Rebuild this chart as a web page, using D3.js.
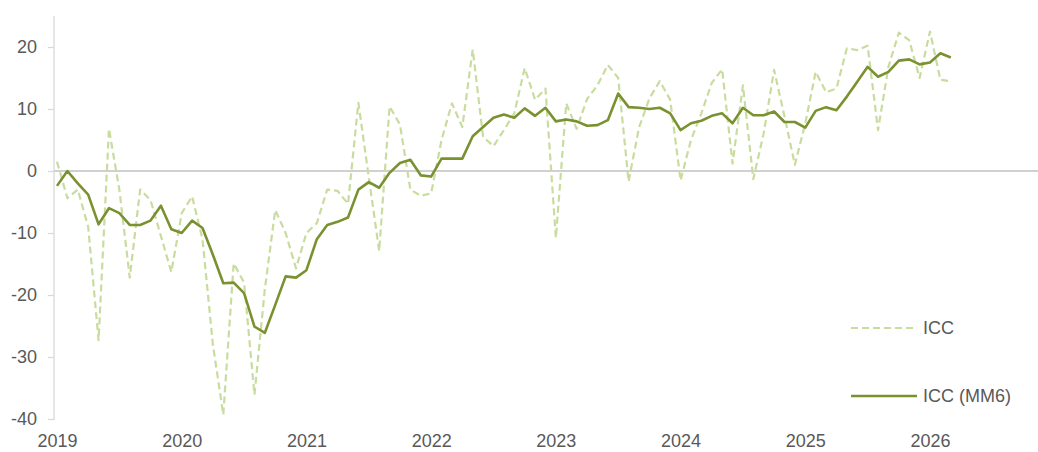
<!DOCTYPE html>
<html>
<head>
<meta charset="utf-8">
<script src="https://cdn.jsdelivr.net/npm/d3@7"></script>
<style>
  html, body { margin: 0; padding: 0; background: #ffffff; }
  svg { display: block; }
  text { font-family: "Liberation Sans", Arial, sans-serif; }
</style>
</head>
<body>
<svg id="chart" width="1038" height="452"></svg>
<script>
// Month labels: Jan 2019 .. Mar 2026
const startYear = 2019;
const years = ["2019", "2020", "2021", "2022", "2023", "2024", "2025", "2026"];
const yTicks = [-40, -30, -20, -10, 0, 10, 20];
const seriesNames = ["ICC", "ICC (MM6)"];

// ICC (monthly, dashed)
const icc = [
  1.5, -4.4, -3.0, -9.0, -27.3, 6.8, -3.0, -17.2, -3.0, -4.7, -10.5, -16.3,
  -6.8, -4.1, -11.0, -28.0, -39.3, -14.9, -18.0, -36.1, -19.0, -6.3, -10.0, -15.7,
  -10.0, -8.4, -3.0, -3.2, -5.3, 11.0, -1.0, -12.9, 10.4, 7.5, -3.0, -4.0,
  -3.6, 5.0, 10.9, 7.1, 19.6, 5.5, 4.0, 6.6, 9.3, 16.6, 11.5, 13.3,
  -10.8, 10.9, 6.8, 11.6, 13.8, 17.1, 15.0, -1.7, 7.0, 11.7, 14.5, 11.5,
  -1.5, 5.0, 9.3, 14.2, 16.4, 1.2, 13.8, -1.3, 6.1, 16.3, 8.8, 1.0,
  7.7, 16.0, 12.7, 13.3, 19.8, 19.5, 20.2, 6.6, 16.8, 22.3, 21.1, 15.0,
  22.5, 14.7, 14.5
];

// ICC 6-month moving average (solid)
const iccMM6 = [
  -2.4, 0.0, -2.0, -3.8, -8.6, -6.0, -6.8, -8.7, -8.7, -8.0, -5.6, -9.4,
  -10.0, -8.0, -9.2, -13.5, -18.1, -18.0, -19.7, -25.1, -26.1, -21.6, -17.0, -17.2,
  -16.0, -11.0, -8.7, -8.2, -7.5, -3.0, -1.8, -2.7, -0.3, 1.3, 1.8, -0.7,
  -0.9, 2.0, 2.0, 2.0, 5.6, 7.1, 8.6, 9.1, 8.6, 10.1, 8.9, 10.2,
  8.0, 8.3, 8.0, 7.3, 7.4, 8.2, 12.5, 10.3, 10.2, 10.0, 10.2, 9.3,
  6.6, 7.7, 8.1, 8.9, 9.3, 7.7, 10.2, 9.0, 9.0, 9.6, 7.9, 7.9,
  7.0, 9.7, 10.3, 9.8, 12.0, 14.4, 16.8, 15.2, 16.0, 17.8, 18.0, 17.2,
  17.5, 19.0, 18.3
];

const svg = d3.select("#chart");
const W = 1038, H = 452;

const x = d3.scaleLinear().domain([0, 84]).range([57, 930]);
const y = d3.scaleLinear().domain([-40, 25]).range([419, 16]);

const axisX = 54;
const labelColor = "#595959";
const lightColor = "#c9dc9f";
const darkColor = "#7a9130";

// Y axis line
svg.append("line")
  .attr("x1", axisX).attr("x2", axisX)
  .attr("y1", y(25)).attr("y2", y(-40) + 1)
  .attr("stroke", "#d9d9d9").attr("stroke-width", 1.3);

// Y axis ticks and labels
const yAxis = d3.axisLeft(y).tickValues(yTicks).tickSize(6).tickPadding(11).tickFormat(d => String(d));
const gy = svg.append("g").attr("transform", `translate(${axisX},0)`).call(yAxis);
gy.select(".domain").remove();
gy.selectAll(".tick line").attr("stroke", "#d9d9d9").attr("stroke-width", 1.3);
gy.selectAll(".tick text")
  .attr("fill", labelColor)
  .style("font-size", "18px")
  .style("font-family", "'Liberation Sans', Arial, sans-serif");

// Zero line
svg.append("line")
  .attr("x1", axisX).attr("x2", W)
  .attr("y1", y(0)).attr("y2", y(0))
  .attr("stroke", "#d0d0d0").attr("stroke-width", 2);

// X axis labels (years)
const xAxis = d3.axisBottom(x)
  .tickValues(years.map((d, i) => i * 12))
  .tickSize(0).tickPadding(0)
  .tickFormat((d, i) => years[i]);
const gx = svg.append("g").attr("transform", `translate(0,${y(-40)})`).call(xAxis);
gx.select(".domain").remove();
gx.selectAll(".tick text")
  .attr("fill", labelColor)
  .attr("dy", null)
  .attr("y", 28)
  .style("font-size", "18px")
  .style("font-family", "'Liberation Sans', Arial, sans-serif");

const line = d3.line().x((d, i) => x(i)).y(d => y(d));

// ICC dashed
svg.append("path")
  .datum(icc)
  .attr("d", line)
  .attr("fill", "none")
  .attr("stroke", lightColor)
  .attr("stroke-width", 2.2)
  .attr("stroke-dasharray", "7,4")
  .attr("stroke-linejoin", "round");

// ICC MM6 solid
svg.append("path")
  .datum(iccMM6)
  .attr("d", line)
  .attr("fill", "none")
  .attr("stroke", darkColor)
  .attr("stroke-width", 2.6)
  .attr("stroke-linejoin", "round");

// Legend
const legend = [
  { name: seriesNames[0], color: lightColor, dash: "7,4", w: 2.2, yy: 328 },
  { name: seriesNames[1], color: darkColor, dash: null, w: 2.6, yy: 396 }
];
const lg = svg.append("g");
legend.forEach(l => {
  lg.append("line")
    .attr("x1", 851).attr("x2", 917)
    .attr("y1", l.yy).attr("y2", l.yy)
    .attr("stroke", l.color)
    .attr("stroke-width", l.w)
    .attr("stroke-dasharray", l.dash);
  lg.append("text")
    .attr("x", 923).attr("y", l.yy)
    .attr("dy", "0.35em")
    .attr("fill", labelColor)
    .style("font-size", "18px")
    .text(l.name);
});
</script>
</body>
</html>
